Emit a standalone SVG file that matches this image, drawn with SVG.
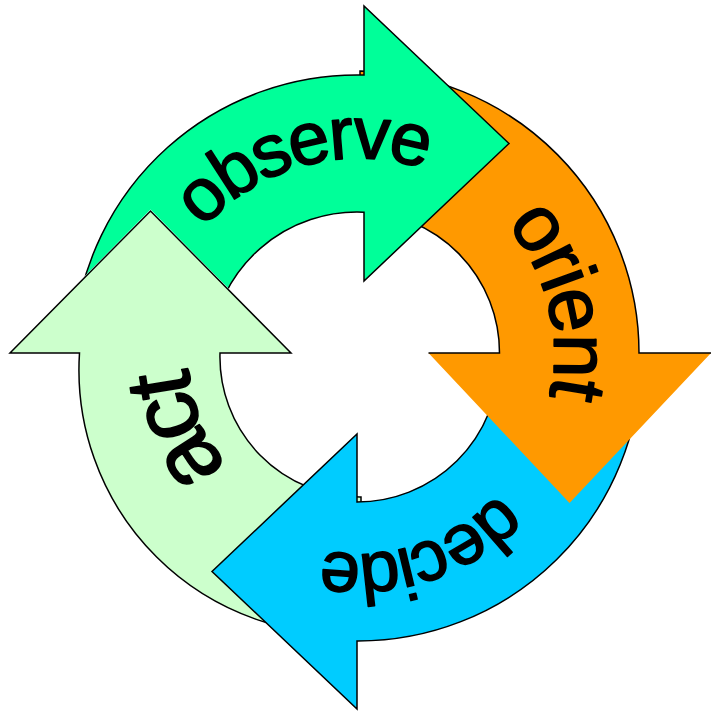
<svg xmlns="http://www.w3.org/2000/svg" xmlns:xlink="http://www.w3.org/1999/xlink" width="711" height="713" viewBox="0 0 711 713">
<style>
.shape{stroke:#000;stroke-width:1.5;stroke-linejoin:miter}
.lbl{font-family:"Liberation Sans",Arial,Helvetica,sans-serif;font-weight:normal;fill:#000;stroke:#000;stroke-width:1.6;stroke-linejoin:round}
</style>
<defs>
<clipPath id="clipObserve" clipPathUnits="userSpaceOnUse">
<path clip-rule="evenodd" d="M0,0 H711 V713 H0 Z M7.6,354 L150.5,209.6 L293.4,354 Z"/>
</clipPath>
<path id="tpObserve" d="M154.0,395.9 A207 207 0 0 1 550.5,287.4"/>
<path id="tpOrient" d="M324.7,158.7 A197 197 0 0 1 422.6,538.8"/>
<path id="tpDecide" d="M546.7,315.1 A194 194 0 0 1 179.9,437.0"/>
<path id="tpAct" d="M413.0,520.2 A171.6 171.6 0 0 1 279.4,205.5"/>
</defs>
<rect width="711" height="713" fill="#fff"/>
<g id="connectors"/>
<g id="node-act">
<path class="shape" fill="#CCFFCC" d="M361,497 L361,633.4 A264 264 0 0 1 79.5,353 L10,353 L150.5,211 L291,353 L220,353 A140 140 0 0 0 361,497 Z"/>
<text class="lbl" font-size="93" letter-spacing="-7.5" text-anchor="middle"><textPath xlink:href="#tpAct" href="#tpAct" startOffset="50%">act</textPath></text>
</g>
<g id="node-decide">
<path class="shape" fill="#00CCFF" d="M499,361 L641,361 A283 283 0 0 1 357,641 L357,709 L212,571.5 L357,434 L357,502 A142 142 0 0 0 499,361 Z"/>
<text class="lbl" font-size="72" letter-spacing="-3.5" text-anchor="middle"><textPath xlink:href="#tpDecide" href="#tpDecide" startOffset="50%">decide</textPath></text>
</g>
<g id="node-orient">
<path fill="#FF9900" d="M360,211.5 L360,71 A282 282 0 0 1 639,353 L711,353 L569.5,503 L428.5,353 L499.5,353 A141.5 141.5 0 0 0 360,211.5 Z"/>
<path class="shape" fill="none" d="M360,211.5 L360,71 A282 282 0 0 1 639,353 L711,353 M428.5,353 L499.5,353 A141.5 141.5 0 0 0 360,211.5"/>
<text class="lbl" font-size="79" letter-spacing="-2.6" text-anchor="middle"><textPath xlink:href="#tpOrient" href="#tpOrient" startOffset="50%">orient</textPath></text>
</g>
<g id="node-observe">
<path class="shape" fill="#00FF99" clip-path="url(#clipObserve)" d="M210.6,346.2 L74.1,334.2 A284 284 0 0 1 364,75.1 L364,6 L509,143.5 L364,281 L364,212.2 A147 147 0 0 0 210.6,346.2 Z"/>
<text class="lbl" font-size="74" letter-spacing="-3.2" text-anchor="middle"><textPath xlink:href="#tpObserve" href="#tpObserve" startOffset="50%">observe</textPath></text>
</g>
</svg>
